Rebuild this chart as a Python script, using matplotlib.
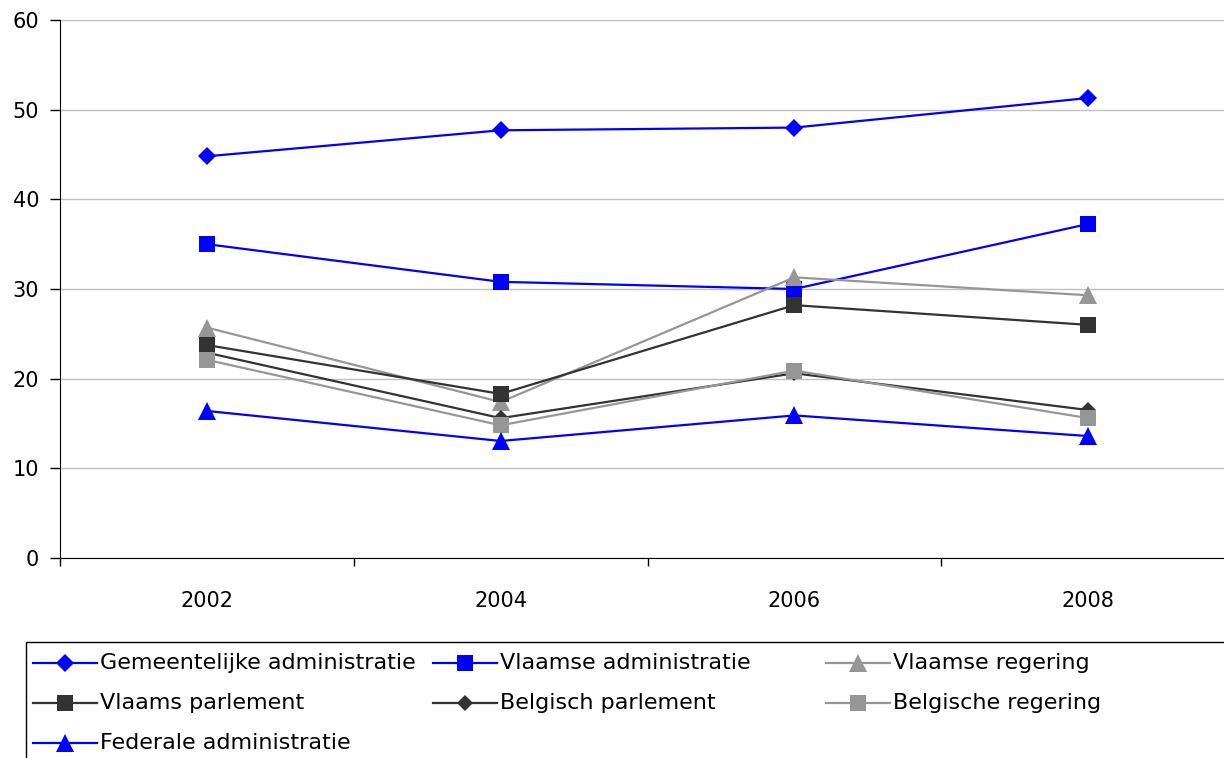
import numpy as np
import matplotlib
matplotlib.use("Agg")
import matplotlib.pyplot as plt
from matplotlib.lines import Line2D
from matplotlib.patches import Rectangle

years = ["2002", "2004", "2006", "2008"]

gemeentelijke_admin = [44.8, 47.7, 48.0, 51.3]
vlaamse_admin = [35.0, 30.8, 30.0, 37.25]
vlaamse_regering = [25.7, 17.4, 31.3, 29.3]
vlaams_parlement = [23.75, 18.3, 28.2, 26.0]
belgisch_parlement = [22.9, 15.6, 20.6, 16.5]
belgische_regering = [22.1, 14.8, 20.9, 15.6]
federale_admin = [16.4, 13.05, 15.9, 13.6]

BLUE = "#0000ff"
DARK = "#333333"
GRAY = "#969696"

# (label, values, colour, marker, markersize)
series = [
    ("Gemeentelijke administratie", gemeentelijke_admin, BLUE, "D", 9),
    ("Vlaamse administratie", vlaamse_admin, BLUE, "s", 12),
    ("Vlaamse regering", vlaamse_regering, GRAY, "^", 12.5),
    ("Vlaams parlement", vlaams_parlement, DARK, "s", 12),
    ("Belgisch parlement", belgisch_parlement, DARK, "D", 8.5),
    ("Belgische regering", belgische_regering, GRAY, "s", 12),
    ("Federale administratie", federale_admin, BLUE, "^", 12.5),
]

W, H = 1224, 758
plt.rcParams["font.family"] = ["DejaVu Sans"]
fig = plt.figure(figsize=(W / 100, H / 100), dpi=100)


def px(x0, y0, x1, y1):
    # pixel box (top-left origin) -> figure fraction rect
    return [x0 / W, 1 - y1 / H, (x1 - x0) / W, (y1 - y0) / H]


ax = fig.add_axes(px(60, 20, 1235, 558))
x = np.arange(len(years))
for label, vals, col, mk, ms in series:
    ax.plot(x, vals, color=col, lw=1.6, marker=mk, markersize=ms,
            markeredgewidth=0, label=label)

ax.set_xlim(-0.5, len(years) - 0.5)
ax.set_ylim(0, 60)
ax.set_yticks(np.arange(0, 61, 10))
ax.yaxis.grid(True, color="#c0c0c0", lw=1)
ax.set_axisbelow(True)
for s in ["top", "right"]:
    ax.spines[s].set_visible(False)
ax.spines["left"].set_color("black")
ax.spines["bottom"].set_color("black")
ax.set_xticks(x)
ax.set_xticklabels(years)
ax.set_xticks(np.arange(-0.5, len(years), 1), minor=True)
ax.tick_params(axis="x", which="major", length=0, pad=24, labelsize=15)
ax.tick_params(axis="x", which="minor", length=6, width=1)
ax.tick_params(axis="y", length=7, width=1, pad=8, labelsize=15)

# legend box, clipped by figure edges like the original
fig.add_artist(Rectangle((26 / W, 1 - 790 / H), (1260 - 26) / W, (790 - 642) / H,
                         transform=fig.transFigure, fill=False,
                         edgecolor="black", lw=1))
rows_y = [663, 703, 743]
cols_x = [33, 433, 826]
for i, (label, vals, col, mk, ms) in enumerate(series):
    r, c = divmod(i, 3)
    y = 1 - rows_y[r] / H
    x0 = cols_x[c]
    fig.add_artist(Line2D([x0 / W, (x0 + 64) / W], [y, y], transform=fig.transFigure,
                          color=col, lw=1.6))
    fig.add_artist(Line2D([(x0 + 32) / W], [y], transform=fig.transFigure,
                          color=col, marker=mk, markersize=ms, markeredgewidth=0))
    fig.text((x0 + 67) / W, y, label, fontsize=16, va="center", ha="left")

fig.savefig("out.png", dpi=100)
